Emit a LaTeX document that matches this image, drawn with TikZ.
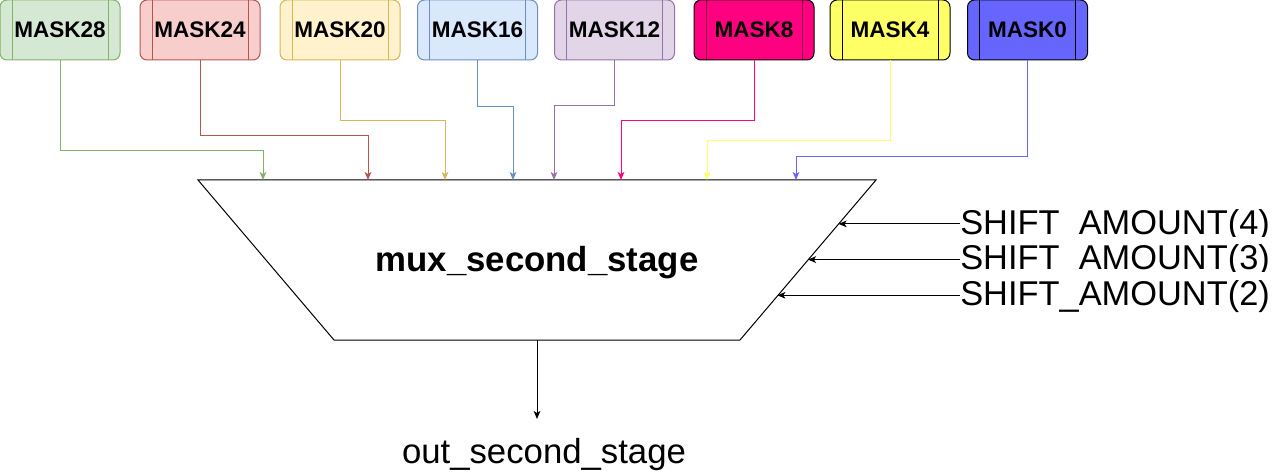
\documentclass[tikz,border=0pt]{standalone}
\usepackage{fontspec}
\setmainfont{Liberation Sans}
\usetikzlibrary{arrows.meta}
\definecolor{gF}{HTML}{D5E8D4}\definecolor{gS}{HTML}{82B366}
\definecolor{rF}{HTML}{F8CECC}\definecolor{rS}{HTML}{B85450}
\definecolor{yF}{HTML}{FFF2CC}\definecolor{yS}{HTML}{D6B656}
\definecolor{bF}{HTML}{DAE8FC}\definecolor{bS}{HTML}{6C8EBF}
\definecolor{pF}{HTML}{E1D5E7}\definecolor{pS}{HTML}{9673A6}
\definecolor{mF}{HTML}{FF0080}\definecolor{mI}{HTML}{80003F}
\definecolor{lF}{HTML}{FFFF66}
\definecolor{vF}{HTML}{6666FF}
\tikzset{
  maskbox/.style 2 args={draw=#2, fill=#1, line width=0.75pt, rounded corners=5.25pt,
    minimum width=90pt, minimum height=45pt, inner sep=0pt,
    font=\fontsize{16.9pt}{20pt}\selectfont\bfseries},
  sidebars/.style={path picture={\draw[line width=0.75pt,draw=#1]
    ([xshift=9pt]path picture bounding box.north west) -- ([xshift=9pt]path picture bounding box.south west)
    ([xshift=-9pt]path picture bounding box.north east) -- ([xshift=-9pt]path picture bounding box.south east);}},
  feed/.style={line width=0.75pt, draw=#1, -{Stealth[length=6pt,width=5pt,inset=1.5pt]}},
  blackarrow/.style={line width=0.75pt, draw=black, -{Stealth[length=6pt,width=5pt,inset=1.5pt]}},
  shiftlabel/.style={anchor=base west, fill=white, inner sep=0pt, text height=25pt, text depth=9.4pt,
    font=\fontsize{25.8pt}{30pt}\selectfont},
  muxbody/.style={draw=black, line width=0.75pt, fill=white},
}
\begin{document}
\begin{tikzpicture}[x=0.75pt,y=-0.75pt]
\useasboundingbox (0,0) rectangle (1275,474);
% trapezoid
\coordinate (tl) at (198,180);
\coordinate (tr) at (876,180);
\coordinate (br) at (740,340);
\coordinate (bl) at (334,340);
\draw[muxbody] (tl) -- (tr) -- (br) -- (bl) -- cycle;
\path (tr) -- (br) coordinate[pos=0.275] (s4) coordinate[pos=0.5] (s3) coordinate[pos=0.725] (s2);
\coordinate (bm) at (537,340);
\node[anchor=base, font=\fontsize{26.1pt}{30pt}\selectfont\bfseries, inner sep=0pt] (mux) at (537,271.5) {mux\_second\_stage};
% mask boxes
\node[maskbox={gF}{gS}, sidebars=gS] (m28) at (60,30) {MASK28};
\node[maskbox={rF}{rS}, sidebars=rS] (m24) at (200,30) {MASK24};
\node[maskbox={yF}{yS}, sidebars=yS] (m20) at (340,30) {MASK20};
\node[maskbox={bF}{bS}, sidebars=bS] (m16) at (477.5,30) {MASK16};
\node[maskbox={pF}{pS}, sidebars=pS] (m12) at (614.5,30) {MASK12};
\node[maskbox={mF}{black}, sidebars=mI] (m8) at (754,30) {MASK8};
\node[maskbox={lF}{black}, sidebars=black] (m4) at (890,30) {MASK4};
\node[maskbox={vF}{black}, sidebars=black] (m0) at (1027.5,30) {MASK0};
% inputs on top edge
\coordinate (in28) at (263,180);
\coordinate (in24) at (368,180);
\coordinate (in20) at (445,180);
\coordinate (in16) at (513,180);
\coordinate (in12) at (554,180);
\coordinate (in8) at (621,180);
\coordinate (in4) at (707,180);
\coordinate (in0) at (796,180);
\draw[feed=gS] (m28.south) -- ++(0,90) -| (in28);
\draw[feed=rS] (m24.south) -- ++(0,75) -| (in24);
\draw[feed=yS] (m20.south) -- ++(0,60) -| (in20);
\draw[feed=bS] (m16.south) -- ++(0,46) -| (in16);
\draw[feed=pS] (m12.south) -- ++(0,45) -| (in12);
\draw[feed=mF] (m8.south) -- ++(0,60) -| (in8);
\draw[feed=lF] (m4.south) -- ++(0,80) -| (in4);
\draw[feed=vF] (m0.south) -- ++(0,96) -| (in0);
% shift labels
\node[shiftlabel] (l4) at (960,234.3) {SHIFT\_AMOUNT(4)};
\node[shiftlabel] (l3) at (960,270) {SHIFT\_AMOUNT(3)};
\node[shiftlabel] (l2) at (960,305.7) {SHIFT\_AMOUNT(2)};
\draw[blackarrow] (l4.west) -- (s4 |- l4.west);
\draw[blackarrow] (l3.west) -- (s3 |- l3.west);
\draw[blackarrow] (l2.west) -- (s2 |- l2.west);
% output
\node[anchor=base, font=\fontsize{26.06pt}{30pt}\selectfont, inner sep=0pt] (out) at (544,463.3) {out\_second\_stage};
\coordinate (oe) at (537,419);
\draw[blackarrow] (bm) -- (oe);
\end{tikzpicture}
\end{document}
